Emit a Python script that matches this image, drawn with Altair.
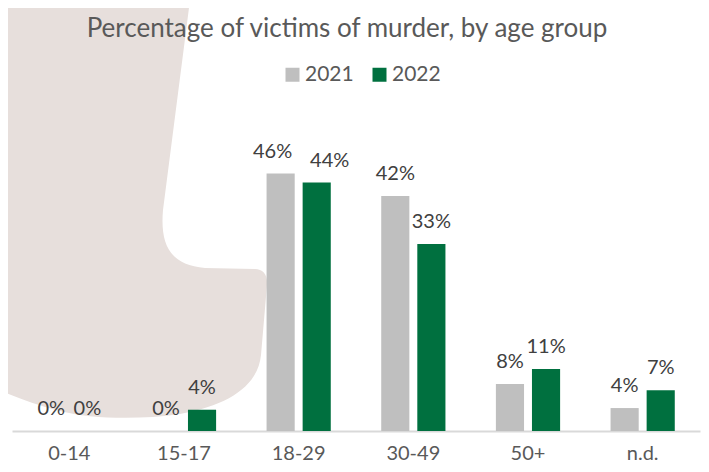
import altair as alt
import pandas as pd

categories = ["0-14", "15-17", "18-29", "30-49", "50+", "n.d."]
years = ["2021", "2022"]
v2021 = [0, 0, 46, 42, 8.4, 4.1]
v2022 = [0, 3.8, 44.4, 33.4, 11.1, 7.3]
labels2021 = ["0%", "0%", "46%", "42%", "8%", "4%"]
labels2022 = ["0%", "4%", "44%", "33%", "11%", "7%"]

rows = []
for c, a, b, la, lb in zip(categories, v2021, v2022, labels2021, labels2022):
    rows.append({"cat": c, "year": "2021", "value": a, "label": la})
    rows.append({"cat": c, "year": "2022", "value": b, "label": lb})
df = pd.DataFrame(rows)

FONT = "Lato"
TXT = "#595959"
LBL = "#404040"
GRAY = "#BFBFBF"
GREEN = "#00703F"
SHAPE = "#E7DFDC"

# decorative background blob (page coords), shifted to plot origin
ox, oy = 12, 140
blob = [("M", [(-12, -12)]), ("L", [(192, -12)]), ("L", [(190, 0)]), ("L", [(163, 210)]),
        ("C", [(160, 245), (170, 265), (205, 268)]), ("L", [(255, 269)]),
        ("C", [(263, 269), (268, 275), (267, 285)]), ("L", [(261, 355)]),
        ("C", [(258, 385), (230, 405), (180, 414)]),
        ("C", [(140, 420), (90, 419), (60, 411)]),
        ("C", [(30, 403), (10, 395), (-12, 385)])]
path = " ".join(cmd + " ".join(f"{x - ox},{y - oy}" for x, y in pts) for cmd, pts in blob) + " Z"

bg = alt.Chart(pd.DataFrame({"d": [0]})).mark_point(
    shape=path, filled=True, color=SHAPE, opacity=1, size=4, strokeWidth=0
).encode(x=alt.value(0), y=alt.value(0))

xenc = alt.X("cat:N", sort=categories, title=None,
             scale=alt.Scale(paddingInner=0.44, paddingOuter=0.22),
             axis=alt.Axis(labelAngle=0, labelFontSize=20, labelColor=TXT, labelFont=FONT,
                           labelPadding=12, ticks=False, domainColor="#D9D9D9", domainWidth=2))
yenc = alt.Y("value:Q", scale=alt.Scale(domain=[0, 52]), axis=None)
xoff = alt.XOffset("year:N", sort=years, scale=alt.Scale(paddingInner=0.22))

base = alt.Chart(df)
bars = base.mark_bar().encode(
    x=xenc, y=yenc, xOffset=xoff,
    color=alt.Color("year:N", sort=years,
                    scale=alt.Scale(domain=years, range=[GRAY, GREEN]),
                    legend=alt.Legend(orient="none", legendX=270, legendY=-76, direction="horizontal",
                                      title=None, symbolType="square", symbolSize=196,
                                      symbolStrokeWidth=0, labelFontSize=21, labelColor=TXT,
                                      labelFont=FONT, columnPadding=15, labelOffset=2, padding=0)),
)


def labels(flt, dx):
    return base.transform_filter(flt).mark_text(
        fontSize=20, color=LBL, font=FONT, baseline="alphabetic", dy=-16, dx=dx
    ).encode(x=alt.X("cat:N", sort=categories), y=yenc, xOffset=xoff, text="label:N")


t_main = labels("datum.cat != '18-29'", 0)
t_a = labels("datum.cat == '18-29' && datum.year == '2021'", -8)
t_b = labels("datum.cat == '18-29' && datum.year == '2022'", 13)

chart = alt.layer(bg, bars, t_main, t_a, t_b).properties(
    width=688, height=291,
    title=alt.TitleParams("Percentage of victims of murder, by age group", fontSize=26,
                          font=FONT, color=TXT, fontWeight="normal", anchor="middle",
                          offset=0, dx=-9, dy=54),
    autosize=alt.AutoSizeParams(type="none"),
    padding={"left": 4, "top": 132, "right": 1, "bottom": 33},
).configure_view(stroke=None)

chart.save("out.html", embed_options={"renderer": "svg", "actions": False})
